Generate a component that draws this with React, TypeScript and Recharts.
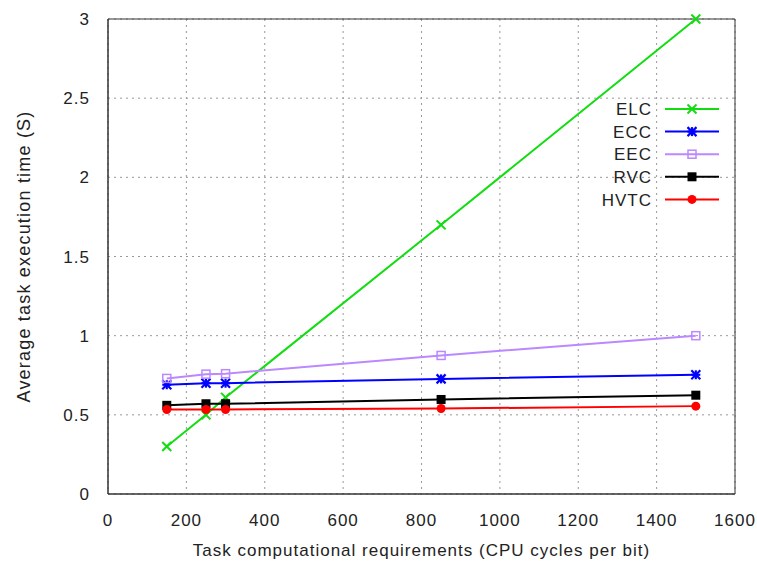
import { LineChart, Line, XAxis, YAxis, CartesianGrid, ReferenceArea } from 'recharts';

// task computational requirements (CPU cycles per bit)
const cycles = [150, 250, 300, 850, 1500];

// average task execution time (S)
const elc = [0.3, 0.5, 0.61, 1.7, 3.0];
const ecc = [0.69, 0.7, 0.7, 0.727, 0.753];
const eec = [0.73, 0.757, 0.76, 0.875, 1.0];
const rvc = [0.56, 0.57, 0.57, 0.597, 0.624];
const hvtc = [0.534, 0.534, 0.534, 0.54, 0.555];

const xTicks = [0, 200, 400, 600, 800, 1000, 1200, 1400, 1600];
const yTicks = [0, 0.5, 1, 1.5, 2, 2.5, 3];

const data = cycles.map((c, i) => ({
  cycles: c,
  ELC: elc[i],
  ECC: ecc[i],
  EEC: eec[i],
  RVC: rvc[i],
  HVTC: hvtc[i],
}));

const FONT = '"Liberation Sans", Arial, sans-serif';
const TEXT = '#222';

// gnuplot style point markers
const Marker = ({ kind, cx, cy, color }: { kind: string; cx: number; cy: number; color: string }) => {
  if (cx == null || cy == null) return null;
  const s = 4.5;
  if (kind === 'cross') {
    return (
      <g stroke={color} strokeWidth={2}>
        <line x1={cx - s} y1={cy - s} x2={cx + s} y2={cy + s} />
        <line x1={cx - s} y1={cy + s} x2={cx + s} y2={cy - s} />
      </g>
    );
  }
  if (kind === 'star') {
    return (
      <g stroke={color} strokeWidth={2.2}>
        <line x1={cx - s} y1={cy - s} x2={cx + s} y2={cy + s} />
        <line x1={cx - s} y1={cy + s} x2={cx + s} y2={cy - s} />
        <line x1={cx - s} y1={cy} x2={cx + s} y2={cy} />
        <line x1={cx} y1={cy - s} x2={cx} y2={cy + s} />
      </g>
    );
  }
  if (kind === 'box') {
    return <rect x={cx - 4} y={cy - 4} width={8} height={8} fill="none" stroke={color} strokeWidth={1.5} />;
  }
  if (kind === 'fbox') {
    return <rect x={cx - 4.5} y={cy - 4.5} width={9} height={9} fill={color} />;
  }
  return <circle cx={cx} cy={cy} r={4.5} fill={color} />;
};

const series = [
  { key: 'ELC', color: '#11dd11', kind: 'cross' },
  { key: 'ECC', color: '#0000ff', kind: 'star' },
  { key: 'EEC', color: '#bb88ff', kind: 'box' },
  { key: 'RVC', color: '#000000', kind: 'fbox' },
  { key: 'HVTC', color: '#ff0000', kind: 'circle' },
];

// key box drawn over the plot, top right like gnuplot does
const LegendBox = () => (
  <svg width={170} height={115} style={{ position: 'absolute', left: 560, top: 98 }}>
    {series.map((s, i) => {
      const y = 11 + i * 22.6;
      return (
        <g key={s.key}>
          <text x={92} y={y} dy="0.36em" textAnchor="end" fontSize={17} letterSpacing={1} fill={TEXT} fontFamily={FONT}>
            {s.key}
          </text>
          <line x1={105} x2={159} y1={y} y2={y} stroke={s.color} strokeWidth={2} />
          <Marker kind={s.kind} cx={132} cy={y} color={s.color} />
        </g>
      );
    })}
  </svg>
);

export default function App() {
  return (
    <div style={{ position: 'absolute', left: 0, top: 0, width: 757, height: 562, background: '#fff' }}>
      <LineChart
        width={757}
        height={562}
        data={data}
        margin={{ top: 19, right: 22, bottom: 28, left: 0 }}
        style={{ fontFamily: FONT }}
      >
        <CartesianGrid stroke="#999" strokeDasharray="2 4" strokeWidth={1} />
        <XAxis
          dataKey="cycles"
          type="number"
          domain={[0, 1600]}
          ticks={xTicks}
          height={40}
          stroke="#333"
          tickLine={false}
          tickSize={8}
          tickMargin={12}
          tick={{ fill: TEXT, fontSize: 17, letterSpacing: 1 }}
          label={{ value: 'Task computational requirements (CPU cycles per bit)', position: 'bottom', offset: 10, fill: TEXT, fontSize: 17, letterSpacing: 1 }}
        />
        <YAxis
          type="number"
          domain={[0, 3]}
          ticks={yTicks}
          width={108}
          stroke="#333"
          tickLine={false}
          tickSize={8}
          tickMargin={10}
          tick={{ fill: TEXT, fontSize: 17, letterSpacing: 1 }}
          label={{ value: 'Average task execution time (S)', angle: -90, position: 'insideLeft', offset: 24, fill: TEXT, fontSize: 18, letterSpacing: 1.2, style: { textAnchor: 'middle' } }}
        />
        <ReferenceArea x1={0} x2={1600} y1={0} y2={3} fill="none" stroke="#333" strokeWidth={1} />
        {series.map((s) => (
          <Line
            key={s.key}
            type="linear"
            dataKey={s.key}
            stroke={s.color}
            strokeWidth={2}
            isAnimationActive={false}
            dot={(p: any) => <Marker key={`${s.key}-${p.index}`} kind={s.kind} cx={p.cx} cy={p.cy} color={s.color} />}
            activeDot={false}
          />
        ))}
      </LineChart>
      <LegendBox />
    </div>
  );
}
